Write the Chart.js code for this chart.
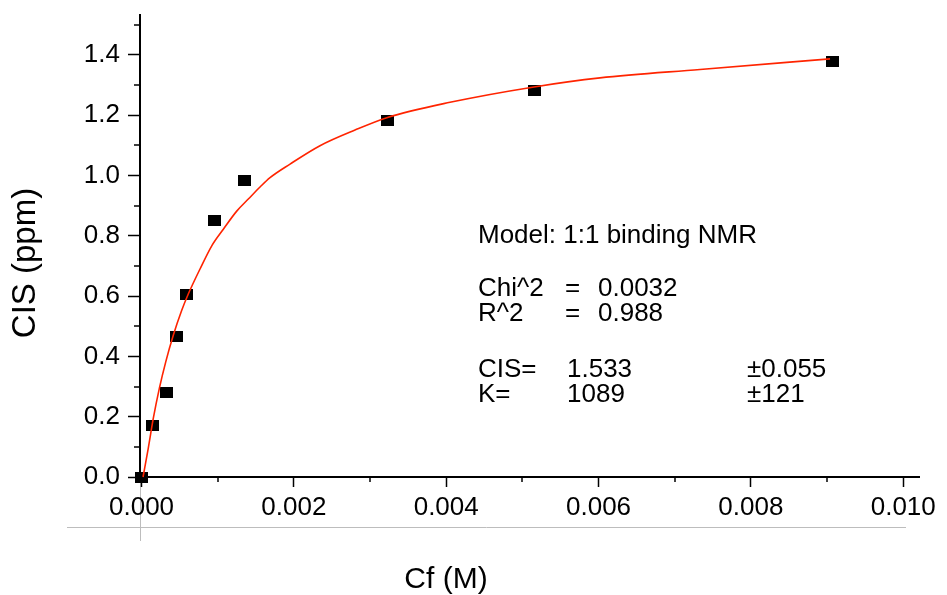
<!DOCTYPE html>
<html>
<head>
<meta charset="utf-8">
<script src="https://cdn.jsdelivr.net/npm/chart.js@4.4.1/dist/chart.umd.min.js"></script>
<style>
  html, body { margin: 0; padding: 0; background: #fff; }
  canvas { display: block; }
</style>
</head>
<body>
<canvas id="fitChart" width="947" height="595"></canvas>
<script>
// titration points: free concentration vs observed shift
const cfMeasured = [0.0, 0.000142, 0.000322, 0.000453, 0.000597, 0.000952, 0.001346, 0.003223, 0.005153, 0.009065]
const cisMeasured = [0.0, 0.17, 0.28, 0.466, 0.604, 0.851, 0.983, 1.182, 1.281, 1.380]

// fitted 1:1 binding curve
const cfFit = [0.00002, 0.000089, 0.000155, 0.000234, 0.000318, 0.000417, 0.000528, 0.000614, 0.000768, 0.000922,
  0.001074, 0.00125, 0.001402, 0.001556, 0.001687, 0.00195, 0.002343, 0.002803, 0.00322, 0.00405,
  0.005153, 0.006019, 0.007332, 0.009039]
const cisFit = [0.0, 0.096, 0.195, 0.294, 0.382, 0.470, 0.553, 0.607, 0.690, 0.767,
  0.822, 0.882, 0.922, 0.962, 0.993, 1.038, 1.099, 1.151, 1.192, 1.243,
  1.294, 1.324, 1.352, 1.387]

const xTicks = [0, 0.002, 0.004, 0.006, 0.008, 0.010]
const xTickLabels = ['0.000', '0.002', '0.004', '0.006', '0.008', '0.010']
const xMinor = [0.001, 0.003, 0.005, 0.007, 0.009]
const yTicks = [0, 0.2, 0.4, 0.6, 0.8, 1.0, 1.2, 1.4]
const yTickLabels = ['0.0', '0.2', '0.4', '0.6', '0.8', '1.0', '1.2', '1.4']
const yMinor = [0.1, 0.3, 0.5, 0.7, 0.9, 1.1, 1.3, 1.5]

const modelName = 'Model: 1:1 binding NMR'
const statNames = ['Chi^2', 'R^2']
const statValues = ['0.0032', '0.988']
const paramNames = ['CIS=', 'K=']
const paramValues = ['1.533', '1089']
const paramErrors = ['\u00b10.055', '\u00b1121']

const FONT = "'Liberation Sans', Arial, sans-serif"

// black boxes a bit wider than tall
const marker = document.createElement('canvas')
marker.width = 13
marker.height = 11
const mctx = marker.getContext('2d')
mctx.fillStyle = '#000'
mctx.fillRect(0, 0, 13, 11)

const extras = {
  id: 'extras',
  beforeDraw (chart) {
    const ctx = chart.ctx
    const area = chart.chartArea
    ctx.save()
    ctx.strokeStyle = '#bdbdbd'
    ctx.lineWidth = 1
    ctx.beginPath()
    ctx.moveTo(67, 527.5)
    ctx.lineTo(906, 527.5)
    ctx.moveTo(area.left + 0.5, area.bottom + 2)
    ctx.lineTo(area.left + 0.5, 541)
    ctx.stroke()
    ctx.restore()
  },
  afterDraw (chart) {
    const ctx = chart.ctx
    const area = chart.chartArea
    const xs = chart.scales.x
    const ys = chart.scales.y
    ctx.save()

    // minor ticks
    ctx.strokeStyle = '#000'
    ctx.lineWidth = 1.5
    ctx.beginPath()
    xMinor.forEach(v => {
      const px = Math.round(xs.getPixelForValue(v))
      ctx.moveTo(px, area.bottom)
      ctx.lineTo(px, area.bottom + 5)
    })
    yMinor.forEach(v => {
      const py = Math.round(ys.getPixelForValue(v))
      ctx.moveTo(area.left - 6, py)
      ctx.lineTo(area.left, py)
    })
    ctx.stroke()

    // axis titles
    ctx.fillStyle = '#000'
    ctx.textAlign = 'center'
    ctx.textBaseline = 'alphabetic'
    ctx.font = '30px ' + FONT
    ctx.fillText('Cf (M)', 446, 588)
    ctx.save()
    ctx.translate(35, 263)
    ctx.rotate(-Math.PI / 2)
    ctx.font = '33px ' + FONT
    ctx.fillText('CIS (ppm)', 0, 0)
    ctx.restore()

    // fit summary
    ctx.textAlign = 'left'
    ctx.font = '26px ' + FONT
    ctx.fillText(modelName, 478, 243)
    statNames.forEach((name, i) => {
      const y = 296 + i * 25
      ctx.fillText(name, 478, y)
      ctx.fillText('=', 565, y)
      ctx.fillText(statValues[i], 598, y)
    })
    paramNames.forEach((name, i) => {
      const y = 377 + i * 25
      ctx.fillText(name, 478, y)
      ctx.fillText(paramValues[i], 567, y)
      ctx.fillText(paramErrors[i], 747, y)
    })
    ctx.restore()
  }
}

new Chart(document.getElementById('fitChart'), {
  type: 'scatter',
  data: {
    datasets: [
      {
        label: 'fit',
        data: cfFit.map((x, i) => ({ x: x, y: cisFit[i] })),
        showLine: true,
        pointRadius: 0,
        borderColor: '#ff2400',
        borderWidth: 1.6,
        cubicInterpolationMode: 'monotone',
        clip: false,
        order: 0
      },
      {
        label: 'CIS',
        data: cfMeasured.map((x, i) => ({ x: x, y: cisMeasured[i] })),
        pointStyle: marker,
        pointRadius: 7,
        clip: false,
        order: 1
      }
    ]
  },
  options: {
    responsive: false,
    animation: false,
    events: [],
    layout: { padding: { top: 15, right: 28, left: 0, bottom: 0 } },
    plugins: {
      legend: { display: false },
      tooltip: { enabled: false }
    },
    scales: {
      x: {
        type: 'linear',
        min: -0.00002,
        max: 0.010207,
        afterBuildTicks: s => { s.ticks = xTicks.map(v => ({ value: v })) },
        afterFit: s => { s.height = 118; s.paddingLeft = 0; s.paddingRight = 0 },
        ticks: {
          autoSkip: false,
          maxRotation: 0,
          padding: 5,
          color: '#000',
          font: { family: FONT, size: 26 },
          callback: (v, i) => xTickLabels[i]
        },
        grid: { display: true, drawOnChartArea: false, drawTicks: true, tickLength: 10, tickWidth: 1.5, tickColor: '#000' },
        border: { display: true, color: '#000', width: 2 }
      },
      y: {
        type: 'linear',
        min: 0,
        max: 1.5326,
        afterBuildTicks: s => { s.ticks = yTicks.map(v => ({ value: v })) },
        afterFit: s => { s.width = 140; s.paddingTop = 0; s.paddingBottom = 0 },
        ticks: {
          autoSkip: false,
          padding: 8,
          color: '#000',
          font: { family: FONT, size: 26 },
          callback: (v, i) => yTickLabels[i]
        },
        grid: { display: true, drawOnChartArea: false, drawTicks: true, tickLength: 12, tickWidth: 1.5, tickColor: '#000' },
        border: { display: true, color: '#000', width: 2 }
      }
    }
  },
  plugins: [extras]
})
</script>
</body>
</html>
